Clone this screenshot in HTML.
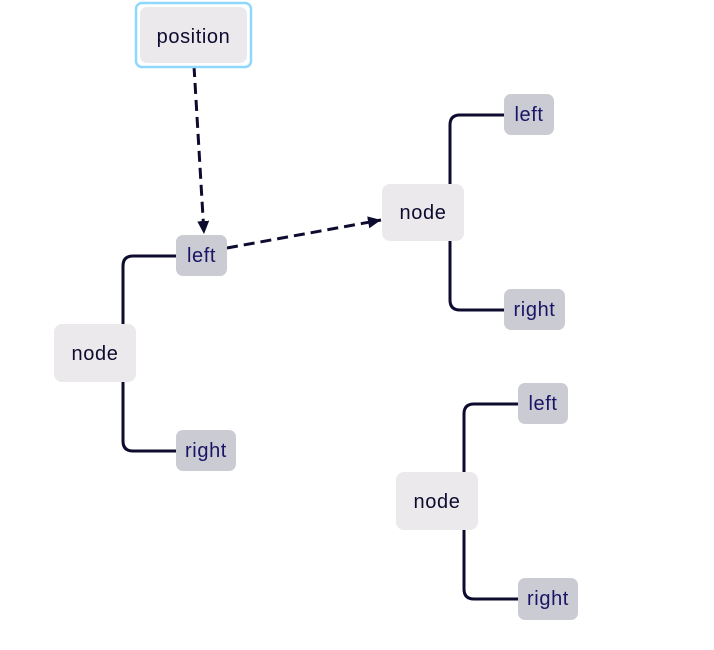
<!DOCTYPE html>
<html><head><meta charset="utf-8"><style>
html,body{margin:0;padding:0;background:#fff;}
svg{display:block}
text{font-family:"Liberation Sans",sans-serif;letter-spacing:0.6px;}
</style></head><body>
<svg width="714" height="650" viewBox="0 0 714 650" xmlns="http://www.w3.org/2000/svg">
<defs><marker id="a" markerWidth="14" markerHeight="14" refX="13" refY="6" orient="auto" markerUnits="userSpaceOnUse"><path d="M0,0 L13,6 L0,12 z" fill="#0d0b2e"/></marker></defs>
<g fill="none" stroke="#0d0b2e" stroke-width="3">
<path d="M123,324 V266 Q123,256 133,256 H176"/>
<path d="M123,382 V441 Q123,451 133,451 H176"/>
<path d="M450,184 V125 Q450,115 460,115 H504"/>
<path d="M450,241 V300 Q450,310 460,310 H504"/>
<path d="M464,472 V414 Q464,404 474,404 H518"/>
<path d="M464,530 V589 Q464,599 474,599 H518"/>
<path d="M194,66 L204,234" stroke-dasharray="11,6" marker-end="url(#a)"/>
<path d="M227,248 L381,220" stroke-dasharray="11,6" marker-end="url(#a)"/>
</g>
<rect x="136" y="3" width="115" height="64" rx="6" fill="#fff" stroke="#8fd8fb" stroke-width="2.5"/>
<rect x="140" y="7" width="107" height="56" rx="7" fill="#ebe9ec"/>
<text x="193.5" y="43" text-anchor="middle" font-size="20" fill="#0d0b2e">position</text>
<g fill="#ebe9ec">
<rect x="54" y="324" width="82" height="58" rx="8"/>
<rect x="382" y="184" width="82" height="57" rx="8"/>
<rect x="396" y="472" width="82" height="58" rx="8"/>
</g>
<g font-size="20" fill="#0d0b2e" text-anchor="middle">
<text x="95" y="360">node</text>
<text x="423" y="219">node</text>
<text x="437" y="508">node</text>
</g>
<g fill="#cbcbd3">
<rect x="176" y="235" width="51" height="41" rx="7"/>
<rect x="176" y="430" width="60" height="41" rx="7"/>
<rect x="504" y="94" width="50" height="41" rx="7"/>
<rect x="504" y="289" width="61" height="41" rx="7"/>
<rect x="518" y="383" width="50" height="41" rx="7"/>
<rect x="518" y="578" width="60" height="42" rx="7"/>
</g>
<g font-size="20" fill="#1a1466" text-anchor="middle">
<text x="201.5" y="262">left</text>
<text x="206" y="457">right</text>
<text x="529" y="121">left</text>
<text x="534.5" y="316">right</text>
<text x="543" y="410">left</text>
<text x="548" y="605">right</text>
</g>
</svg>
</body></html>
